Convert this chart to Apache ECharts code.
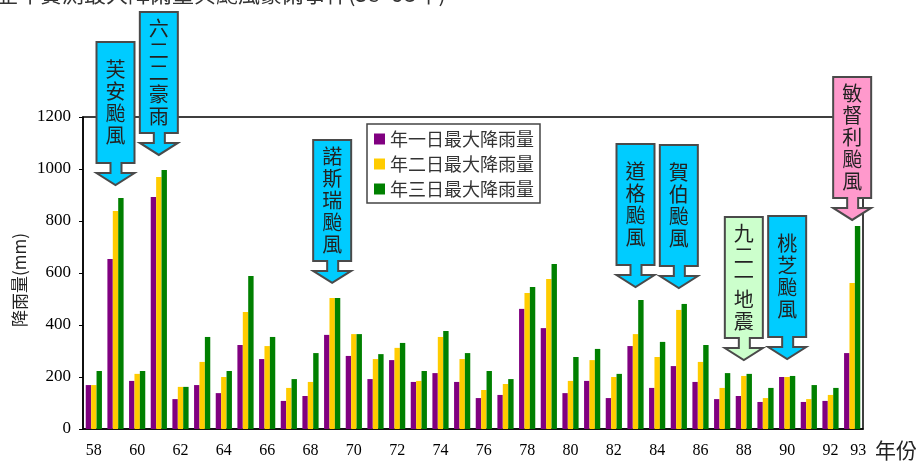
<!DOCTYPE html>
<html>
<head>
<meta charset="utf-8">
<script src="https://cdn.jsdelivr.net/npm/echarts@6/dist/echarts.min.js"></script>
<style>
  html, body { margin: 0; padding: 0; background: #fff; }
  #chart { width: 919px; height: 462px; }
</style>
</head>
<body>
<div id="chart"></div>
<script>
// 年份 (民國)
const years = ['58','59','60','61','62','63','64','65','66','67','68','69','70','71','72','73','74','75',
               '76','77','78','79','80','81','82','83','84','85','86','87','88','89','90','91','92','93'];

const day1Max = [169,654,185,892,115,169,138,323,269,108,127,362,281,192,265,181,215,181,
                 119,131,462,388,138,185,119,319,158,242,181,115,127,104,200,104,108,292];
const day2Max = [169,838,212,969,162,258,200,450,319,158,181,504,365,269,312,185,354,269,
                 150,173,523,577,185,265,200,365,277,458,258,158,204,119,200,115,131,562];
const day3Max = [223,888,223,996,162,354,223,588,354,192,292,504,365,288,331,223,377,292,
                 223,192,546,635,277,308,212,496,335,481,323,215,212,158,204,169,158,781];

// 事件標註: 年份 + 箭頭指到的雨量
const events = [
  { year: '59', text: '芙安颱風',   tip: 938,  color: '#00CCFF' },
  { year: '61', text: '六二二豪雨', tip: 1054, color: '#00CCFF' },
  { year: '69', text: '諾斯瑞颱風', tip: 562,  color: '#00CCFF' },
  { year: '83', text: '道格颱風',   tip: 546,  color: '#00CCFF' },
  { year: '85', text: '賀伯颱風',   tip: 542,  color: '#00CCFF' },
  { year: '88', text: '九二一地震', tip: 265,  color: '#CCFFCC' },
  { year: '90', text: '桃芝颱風',   tip: 269,  color: '#00CCFF' },
  { year: '93', text: '敏督利颱風', tip: 804,  color: '#FF99CC' }
];

const cjk = '"Noto Sans CJK TC", "Noto Sans CJK SC", sans-serif';
const num = '"Liberation Serif", "DejaVu Serif", serif';

const chart = echarts.init(document.getElementById('chart'));

const option = {
  animation: false,
  grid: {
    left: 83, right: 56, top: 117, bottom: 33,
    show: true, borderColor: '#000', borderWidth: 1.5
  },
  legend: {
    orient: 'vertical',
    left: 367, top: 124,
    backgroundColor: '#fff',
    borderColor: '#444',
    borderWidth: 1.5,
    padding: [6, 6, 5, 7],
    itemWidth: 11, itemHeight: 11, itemGap: 7, itemTextGap: 3,
    icon: 'rect',
    textStyle: { fontFamily: cjk, fontSize: 18, lineHeight: 18, color: '#333' },
    data: ['年一日最大降雨量', '年二日最大降雨量', '年三日最大降雨量']
  },
  xAxis: {
    type: 'category',
    data: years,
    axisLine: { lineStyle: { color: '#000', width: 1.5 } },
    axisTick: { inside: true, length: 3, interval: 0, lineStyle: { color: '#666' } },
    axisLabel: {
      interval: 0,
      margin: 14,
      fontFamily: num, fontSize: 16, color: '#000',
      formatter: (v, i) => {
        if (i === years.length - 1) return '{last|' + v + '}';
        return i % 2 === 0 ? v : '';
      },
      rich: { last: { fontFamily: num, fontSize: 16, color: '#000', padding: [0, 0, 0, 12] } }
    }
  },
  yAxis: {
    type: 'value',
    min: 0, max: 1200, interval: 200,
    splitLine: { show: false },
    axisLine: { show: true, lineStyle: { color: '#000', width: 1.5 } },
    axisTick: { show: true, length: 4, lineStyle: { color: '#000' } },
    axisLabel: { margin: 12, fontFamily: num, fontSize: 17, color: '#000',
      formatter: v => String(v) }
  },
  series: [
    { name: '年一日最大降雨量', type: 'bar', data: day1Max, barWidth: 5.4, barGap: '0%',
      itemStyle: { color: '#800080' } },
    { name: '年二日最大降雨量', type: 'bar', data: day2Max, barWidth: 5.4, barGap: '0%',
      itemStyle: { color: '#FFCC00' } },
    { name: '年三日最大降雨量', type: 'bar', data: day3Max, barWidth: 5.4, barGap: '0%',
      itemStyle: { color: '#008000' } }
  ]
};

chart.setOption(option);

// 箭頭形狀的標註框
function arrowShape(cx, tipY) {
  const w = 19, L = cx - w, R = cx + w;
  const B = tipY - 22, T = B - 121, N = B + 10;
  return [[L, T], [R, T], [R, B], [cx + 6, B], [cx + 6, N], [R, N], [cx, tipY],
          [L, N], [cx - 5, N], [cx - 5, B], [L, B]];
}

const graphics = [];
events.forEach(ev => {
  const p = chart.convertToPixel({ xAxisIndex: 0, yAxisIndex: 0 }, [ev.year, ev.tip]);
  const cx = p[0], tipY = p[1];
  const B = tipY - 22, T = B - 121;
  graphics.push({
    type: 'polygon',
    shape: { points: arrowShape(cx, tipY) },
    style: { fill: ev.color, stroke: '#4a4a4a', lineWidth: 2 },
    z: 100
  });
  graphics.push({
    type: 'text',
    x: cx, y: (T + B) / 2,
    style: {
      text: ev.text.split('').join('\n'),
      font: '20px ' + cjk,
      lineHeight: 22,
      fill: '#222',
      align: 'center',
      verticalAlign: 'middle'
    },
    z: 101
  });
});

// 標題 (上方被裁切), 軸名
graphics.push({
  type: 'text', left: -4, top: -17,
  style: { text: '歷年實測最大降雨量與颱風豪雨事件(58~93年)', font: '22px ' + cjk, fill: '#333' }
});
graphics.push({
  type: 'text', x: 20, y: 280, rotation: Math.PI / 2,
  style: { text: '降雨量(mm)', font: '17px ' + cjk, fill: '#222', align: 'center', verticalAlign: 'middle' }
});
graphics.push({
  type: 'text', left: 875, top: 440,
  style: { text: '年份', font: '21px ' + cjk, fill: '#222' }
});

chart.setOption({ graphic: graphics });
</script>
</body>
</html>
